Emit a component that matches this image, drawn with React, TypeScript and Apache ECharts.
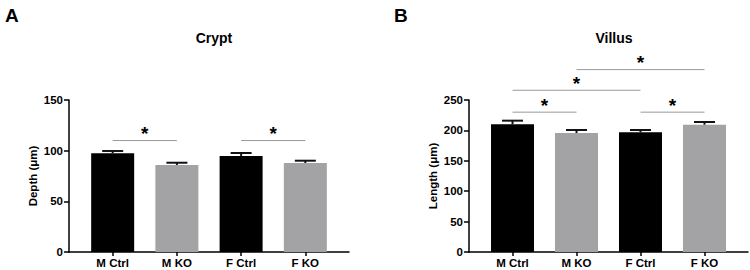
import React, { useEffect, useRef } from "react";
import * as echarts from "echarts";

const categories = ["M Ctrl", "M KO", "F Ctrl", "F KO"];

// Crypt depth (µm): means and upper error (SEM)
const cryptMean = [97.4, 85.9, 94.8, 87.8];
const cryptErr = [2.3, 2.2, 2.9, 2.3];

// Villus length (µm): means and upper error (SEM)
const villusMean = [210, 195.7, 196.9, 209.4];
const villusErr = [6.0, 5.0, 3.8, 4.4];

// significance brackets: [fromIndex, toIndex, yValue]
const cryptSig = [
  [0, 1, 110],
  [2, 3, 110],
];
const villusSig = [
  [1, 3, 300],
  [0, 2, 266],
  [0, 1, 230],
  [2, 3, 230],
];

const cryptTicks = { min: 0, max: 150, interval: 50 };
const villusTicks = { min: 0, max: 250, interval: 50 };

const FONT = "'Liberation Sans', Arial, Helvetica, sans-serif";
const BAR_COLORS = ["#000000", "#a3a3a6", "#000000", "#a3a3a6"];
const BAR_W = 43;

function makeX(gridIndex: number) {
  return {
    type: "value",
    gridIndex,
    min: -0.68,
    max: 3.68,
    splitLine: { show: false },
    axisLine: { show: true, onZero: false, lineStyle: { color: "#000", width: 1.5 } },
    axisTick: {
      show: true,
      customValues: [0, 1, 2, 3],
      length: 4,
      inside: false,
      lineStyle: { color: "#000", width: 1.5 },
    },
    axisLabel: {
      customValues: [0, 1, 2, 3],
      formatter: (v: number) => categories[Math.round(v)] ?? "",
      color: "#000",
      fontFamily: FONT,
      fontWeight: "bold",
      fontSize: 11.5,
      margin: 5,
    },
  };
}

function makeY(gridIndex: number, ticks: any, name: string) {
  return {
    type: "value",
    gridIndex,
    min: ticks.min,
    max: ticks.max,
    interval: ticks.interval,
    name,
    nameLocation: "middle",
    nameGap: 30,
    nameTextStyle: { color: "#000", fontFamily: FONT, fontWeight: "bold", fontSize: 11.5 },
    splitLine: { show: false },
    axisLine: { show: true, onZero: false, lineStyle: { color: "#000", width: 1.5 } },
    axisTick: { show: true, length: 5, inside: false, lineStyle: { color: "#000", width: 1.5 } },
    axisLabel: {
      color: "#000",
      fontFamily: FONT,
      fontWeight: "bold",
      fontSize: 11.5,
      margin: 6,
    },
  };
}

function barSeries(idx: number, means: number[]) {
  return {
    type: "bar",
    xAxisIndex: idx,
    yAxisIndex: idx,
    barWidth: BAR_W,
    data: means.map((m, i) => ({ value: [i, m], itemStyle: { color: BAR_COLORS[i] } })),
    z: 2,
  };
}

function errSeries(idx: number, means: number[], errs: number[]) {
  return {
    type: "custom",
    xAxisIndex: idx,
    yAxisIndex: idx,
    data: means.map((m, i) => [i, m, errs[i]]),
    z: 3,
    renderItem: (_p: any, api: any) => {
      const x = api.value(0);
      const m = api.value(1);
      const e = api.value(2);
      const base = api.coord([x, m]);
      const top = api.coord([x, m + e]);
      const hw = 10.5;
      return {
        type: "group",
        children: [
          {
            type: "line",
            shape: { x1: base[0], y1: base[1], x2: top[0], y2: top[1] },
            style: { stroke: "#111", lineWidth: 2 },
          },
          {
            type: "line",
            shape: { x1: top[0] - hw, y1: top[1], x2: top[0] + hw, y2: top[1] },
            style: { stroke: "#111", lineWidth: 2 },
          },
        ],
      };
    },
  };
}

function sigSeries(idx: number, sig: number[][]) {
  return {
    type: "custom",
    xAxisIndex: idx,
    yAxisIndex: idx,
    clip: false,
    data: sig,
    z: 4,
    renderItem: (_p: any, api: any) => {
      const a = api.coord([api.value(0), api.value(2)]);
      const b = api.coord([api.value(1), api.value(2)]);
      const cx = (a[0] + b[0]) / 2;
      return {
        type: "group",
        children: [
          {
            type: "line",
            shape: { x1: a[0], y1: a[1], x2: b[0], y2: b[1] },
            style: { stroke: "#9a9a9a", lineWidth: 1 },
          },
          {
            type: "text",
            x: cx,
            y: a[1] - 7,
            style: {
              text: "*",
              fill: "#000",
              font: `bold 19px ${FONT}`,
              textAlign: "center",
              textVerticalAlign: "middle",
            },
          },
        ],
      };
    },
  };
}

export default function App() {
  const ref = useRef<HTMLDivElement>(null);

  useEffect(() => {
    if (!ref.current) return;
    const chart = echarts.init(ref.current, undefined, { renderer: "svg" });
    chart.setOption({
      animation: false,
      backgroundColor: "#ffffff",
      title: [
        {
          text: "Crypt",
          left: 209,
          top: 26,
          textAlign: "center",
          textStyle: { fontFamily: FONT, fontWeight: "bold", fontSize: 14, color: "#000" },
        },
        {
          text: "Villus",
          left: 609,
          top: 26,
          textAlign: "center",
          textStyle: { fontFamily: FONT, fontWeight: "bold", fontSize: 14, color: "#000" },
        },
        {
          text: "A",
          left: 0,
          top: 1,
          textStyle: { fontFamily: FONT, fontWeight: "bold", fontSize: 19, color: "#000" },
        },
        {
          text: "B",
          left: 389,
          top: 1,
          textStyle: { fontFamily: FONT, fontWeight: "bold", fontSize: 19, color: "#000" },
        },
      ],
      grid: [
        { left: 69, width: 280, top: 100, height: 152 },
        { left: 469, width: 279, top: 100, height: 152 },
      ],
      xAxis: [makeX(0), makeX(1)],
      yAxis: [makeY(0, cryptTicks, "Depth (\u03bcm)"), makeY(1, villusTicks, "Length (\u03bcm)")],
      series: [
        barSeries(0, cryptMean),
        errSeries(0, cryptMean, cryptErr),
        sigSeries(0, cryptSig),
        barSeries(1, villusMean),
        errSeries(1, villusMean, villusErr),
        sigSeries(1, villusSig),
      ],
    });
    return () => chart.dispose();
  }, []);

  return (
    <div
      ref={ref}
      style={{ position: "absolute", left: 0, top: 0, width: 750, height: 270 }}
    />
  );
}
